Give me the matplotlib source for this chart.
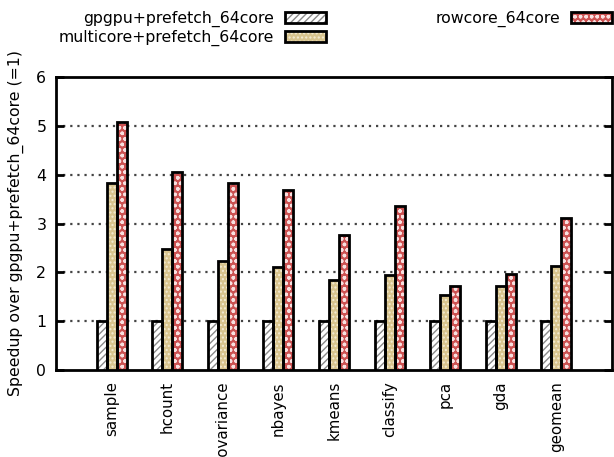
import matplotlib
matplotlib.use("Agg")
import matplotlib.pyplot as plt
import numpy as np
from matplotlib.patches import Patch
from matplotlib.legend_handler import HandlerTuple

categories = ["sample", "hcount", "covariance", "nbayes", "kmeans",
              "classify", "pca", "gda", "geomean"]
series_names = ["gpgpu+prefetch_64core", "multicore+prefetch_64core", "rowcore_64core"]
gpgpu = [1, 1, 1, 1, 1, 1, 1, 1, 1]
multicore = [3.83, 2.47, 2.24, 2.10, 1.84, 1.94, 1.53, 1.71, 2.13]
rowcore = [5.08, 4.06, 3.82, 3.69, 2.77, 3.35, 1.71, 1.97, 3.12]
yticks = [0, 1, 2, 3, 4, 5, 6]

# fill colour, hatch pattern, hatch colour for each series
styles = [
    ("white", "/////", "#8a8a8a"),
    ("#d8c48e", "....", "#f4ecd4"),
    ("#cc5252", "ooo", "#f8e0e0"),
]

FS = 11.3
plt.rcParams["hatch.linewidth"] = 1.0
fig = plt.figure(figsize=(6.14, 4.57), dpi=100)
ax = fig.add_axes([56 / 614, 87 / 457, 556 / 614, 293 / 457])

x = np.arange(len(categories))
w = 0.18
offsets = [-w, 0, w]
handles = []
for vals, off, (fc, hatch, hc), name in zip([gpgpu, multicore, rowcore], offsets, styles, series_names):
    ax.bar(x + off, vals, width=w, color=fc, hatch=hatch, edgecolor=hc, linewidth=0, zorder=3)
    ax.bar(x + off, vals, width=w, fill=False, edgecolor="black", linewidth=2, zorder=4)
    handles.append((Patch(facecolor=fc, hatch=hatch, edgecolor=hc, linewidth=0),
                    Patch(fill=False, edgecolor="black", linewidth=2)))

ax.set_xlim(-1, 9)
ax.set_ylim(0, 6)
ax.set_yticks(yticks)
ax.set_xticks(x)
ax.set_xticklabels(categories, rotation=90, fontsize=10.8)
ax.tick_params(axis="x", length=0, pad=8)
ax.tick_params(axis="y", direction="in", length=6, width=2, right=True, labelsize=FS, pad=7)
for s in ax.spines.values():
    s.set_linewidth(2)
for yv in yticks[1:-1]:
    ax.axhline(yv, color="#444444", linestyle=(0, (1, 2.2)), linewidth=1.6, zorder=1)
ax.set_ylabel("Speedup over gpgpu+prefetch_64core (=1)", fontsize=FS, labelpad=9)

fig.legend(handles, series_names, ncol=2, frameon=False, markerfirst=False,
           loc="upper right", bbox_to_anchor=(612 / 614, 1 - 11 / 457),
           borderpad=0, borderaxespad=0,
           fontsize=FS, handlelength=2.6, handleheight=0.7,
           columnspacing=7.0, labelspacing=0.15, handletextpad=0.7,
           handler_map={tuple: HandlerTuple(ndivide=1, pad=0)})

fig.savefig("out.png", dpi=100)
